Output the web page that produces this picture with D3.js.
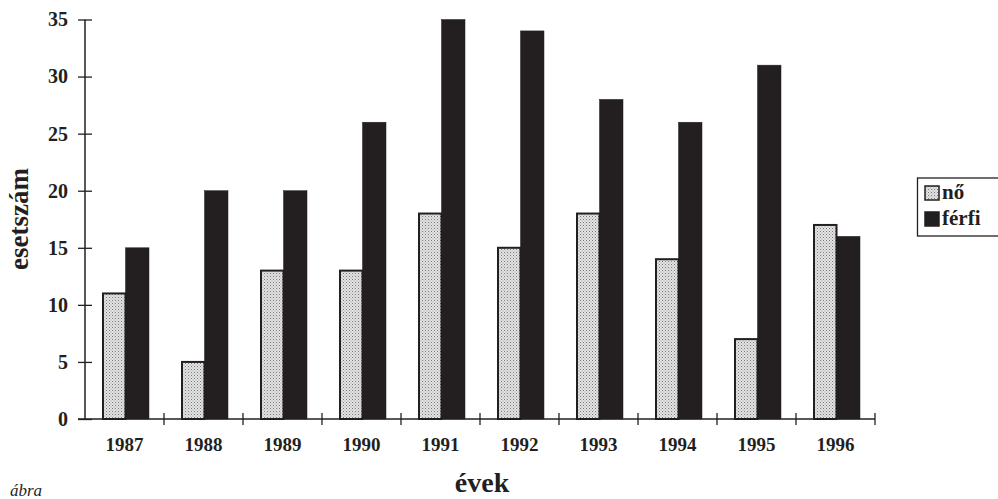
<!DOCTYPE html>
<html><head><meta charset="utf-8">
<script src="https://cdn.jsdelivr.net/npm/d3@7"></script>
<style>body{margin:0;background:#fff}svg{display:block}</style>
</head><body>
<svg id="c" width="998" height="499"></svg>
<script>
const years = ["1987","1988","1989","1990","1991","1992","1993","1994","1995","1996"];
const seriesNames = ["nő","férfi"];
const noValues = [11,5,13,13,18,15,18,14,7,17];
const ferfiValues = [15,20,20,26,35,34,28,26,31,16];
const yTicks = [0,5,10,15,20,25,30,35];

const svg = d3.select("#c");
const font = "'Liberation Serif','Times New Roman',serif";
const ink = "#231f20";

const defs = svg.append("defs");
const pat = defs.append("pattern").attr("id","dots").attr("patternUnits","userSpaceOnUse")
  .attr("width",3).attr("height",3);
pat.append("rect").attr("width",3).attr("height",3).attr("fill","#e4e4e4");
pat.append("rect").attr("x",0).attr("y",0).attr("width",1).attr("height",1).attr("fill","#777");
pat.append("rect").attr("x",1.5).attr("y",1.5).attr("width",1).attr("height",1).attr("fill","#9a9a9a");

const x0 = d3.scaleBand().domain(years).range([85,875]).padding(0);
const x1 = d3.scaleBand().domain(seriesNames).range([17,64]).padding(0);
const y = d3.scaleLinear().domain([0,35]).range([419,19.5]);

const data = years.map((yr,i)=>({year:yr, vals:[{s:"nő",v:noValues[i]},{s:"férfi",v:ferfiValues[i]}]}));

const g = svg.selectAll("g.grp").data(data).enter().append("g")
  .attr("transform",d=>`translate(${x0(d.year)},0)`);
g.selectAll("rect").data(d=>d.vals).enter().append("rect")
  .attr("x",d=>x1(d.s)+(d.s==="nő"?1:0))
  .attr("width",d=>x1.bandwidth()-(d.s==="nő"?1:0))
  .attr("y",d=>y(d.v))
  .attr("height",d=>y(0)-y(d.v))
  .attr("fill",d=>d.s==="nő"?"url(#dots)":ink)
  .attr("stroke",ink)
  .attr("stroke-width",d=>d.s==="nő"?2:0.5);

// y axis
const yAxis = svg.append("g").attr("transform","translate(85,0)")
  .call(d3.axisLeft(y).tickValues(yTicks).tickSize(7).tickPadding(8));
yAxis.select(".domain").attr("stroke",ink).attr("stroke-width",1.5).attr("d","M0,19.5V419");
yAxis.selectAll(".tick line").attr("x1",-7).attr("x2",7).attr("stroke",ink).attr("stroke-width",1.3);
yAxis.selectAll(".tick text").attr("font-family",font).attr("font-weight","bold")
  .attr("font-size",20).attr("fill",ink).attr("x",-17);

// x axis
const xAxis = svg.append("g").attr("transform","translate(0,419)")
  .call(d3.axisBottom(x0).tickSize(0).tickPadding(19));
xAxis.select(".domain").attr("stroke",ink).attr("stroke-width",1.5).attr("d","M78,0H875");
xAxis.selectAll(".tick text").attr("font-family",font).attr("font-weight","bold")
  .attr("font-size",19).attr("fill",ink);
const bounds = years.map(d=>x0(d)+x0.bandwidth());
svg.append("g").selectAll("line").data(bounds).enter().append("line")
  .attr("x1",d=>d).attr("x2",d=>d).attr("y1",413).attr("y2",425)
  .attr("stroke",ink).attr("stroke-width",1.3);

// axis titles
svg.append("text").attr("x",482).attr("y",492).attr("text-anchor","middle")
  .attr("font-family",font).attr("font-weight","bold").attr("font-size",28).attr("fill",ink).text("évek");
svg.append("text").attr("transform","translate(28,219) rotate(-90)").attr("text-anchor","middle")
  .attr("font-family",font).attr("font-weight","bold").attr("font-size",27).attr("fill",ink).text("esetszám");
svg.append("text").attr("x",10).attr("y",496).attr("font-family",font).attr("font-style","italic")
  .attr("font-size",17).attr("fill",ink).text("ábra");

// legend
const lg = svg.append("g");
lg.append("rect").attr("x",917.5).attr("y",178).attr("width",90).attr("height",58)
  .attr("fill","#fff").attr("stroke",ink).attr("stroke-width",1.3);
const items = lg.selectAll("g").data(seriesNames).enter().append("g")
  .attr("transform",(d,i)=>`translate(925,${186+i*26})`);
items.append("rect").attr("width",14).attr("height",14)
  .attr("fill",d=>d==="nő"?"url(#dots)":ink).attr("stroke",ink).attr("stroke-width",1.5);
items.append("text").attr("x",17).attr("y",13).attr("font-family",font).attr("font-weight","bold")
  .attr("font-size",21).attr("fill",ink).text(d=>d);
</script>
</body></html>
